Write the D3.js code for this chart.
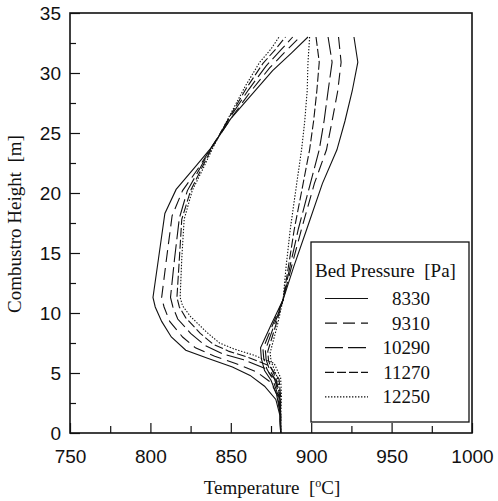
<!DOCTYPE html>
<html>
<head>
<meta charset="utf-8">
<script src="https://cdn.jsdelivr.net/npm/d3@7/dist/d3.min.js"></script>
<style>
  html, body { margin: 0; padding: 0; background: #fff; }
  svg { display: block; }
</style>
</head>
<body>
<div id="chart"></div>
<script>
// ---------- data ----------
const pressures = ["8330", "9310", "10290", "11270", "12250"];
const xTickValues = [750, 800, 850, 900, 950, 1000];
const yTickValues = [0, 5, 10, 15, 20, 25, 30, 35];

// inner (left) branch of each profile, [temperature °C, height m], bottom to top
const inner8330 = [[881,0],[880.5,1.5],[878,2.8],[871,3.9],[862,4.8],[851,5.5],[836,6.2],[822,6.9],[813,8.0],[807,9.3],[803,10.5],[801.6,11.3],[805,14.5],[809,18.3],[816,20.3],[828,22.2],[838,23.8],[850,26.2],[863,28.2],[876,30.2],[888,31.7],[898,33]];
const inner9310 = [[881,0],[880.8,1.5],[879.5,3],[875,4.2],[866,5.1],[853,5.8],[840,6.4],[828,7.1],[820,8],[812,9.3],[808.5,10.5],[807,11.3],[810,14.5],[813.5,18.1],[820,20.2],[830,22.1],[838,23.8],[850,26.2],[862,28.4],[874,30.4],[884,31.8],[893,33]];
const inner10290 = [[881,0],[881,1.5],[880.5,3],[878,4.4],[871,5.4],[858,6.1],[845,6.6],[834,7.3],[825,8.3],[817,9.5],[814,10.5],[812.5,11.3],[815,14.5],[818,17.9],[823,20.2],[831,22.1],[838,23.8],[849.5,26.3],[861,28.6],[872,30.6],[881,31.9],[888.5,33]];
const inner11270 = [[881,0],[881,1.5],[881,3],[880,4.5],[874,5.6],[861,6.3],[849,6.8],[839,7.4],[831,8.3],[822,9.6],[818,10.5],[816.5,11.3],[818,14.5],[819.5,17.8],[825,20.2],[832,22.1],[838.5,23.8],[849.5,26.4],[860,28.8],[870,30.8],[878,32],[884,33]];
const inner12250 = [[881,0],[881,1.5],[881.5,3],[881,4.6],[877,5.8],[864,6.5],[852,7.0],[843,7.5],[835,8.4],[825,9.7],[820,10.6],[818.5,11.3],[819.5,14.5],[821,17.8],[826,20.2],[833,22.1],[839,23.8],[849.5,26.5],[859,28.9],[868,30.9],[875,32],[880,33]];

// outer (right) branch of each profile, top to bottom
const outer8330 = [[926.6,33],[929,30.9],[925.5,28.5],[921,26],[916,23.6],[907,20.8],[897,16.9],[889,13.8],[882.5,11.1],[875,9],[868.5,7.1],[869,6.2],[871,5.2],[875,4.4],[878.5,3.2],[880.5,1.8],[881,0]];
const outer9310 = [[917,33],[918.6,30.9],[916.5,28.5],[913,26],[909.5,23.6],[902,20.8],[894,17],[888,14],[882.5,11.1],[876,9],[870,7],[870.5,6.2],[872.5,5.3],[876,4.5],[879,3.3],[880.5,1.8],[881,0]];
const outer10290 = [[910.5,33],[913,30.9],[910.5,28.5],[908,26],[905,23.6],[899.5,20.8],[892,17],[887,14],[882.5,11.1],[877,9],[871.5,6.9],[872,6.1],[874,5.3],[877,4.6],[879.5,3.4],[880.8,1.8],[881,0]];
const outer11270 = [[903,33],[905,30.9],[903.5,28.5],[901.5,26],[899,23.6],[895,20.8],[889.5,17],[886,14],[882.5,11.1],[878,9],[873,6.8],[873.5,6.0],[875.5,5.3],[878,4.6],[880,3.4],[881,1.8],[881,0]];
const outer12250 = [[899,33],[898,30.9],[897.5,28.5],[896,26],[894,23.6],[891,20.8],[887,17],[884.5,14],[882.5,11.1],[879,9],[874.5,6.7],[875,6.0],[877,5.3],[879,4.6],[880.5,3.4],[881,1.8],[881,0]];

const innerSeries = [inner8330, inner9310, inner10290, inner11270, inner12250];
const outerSeries = [outer8330, outer9310, outer10290, outer11270, outer12250];

// ---------- layout ----------
const W = 498, H = 501;
const plot = { left: 70, top: 13, right: 472, bottom: 433 };
const dashes = [null, "12,6", "18,5", "9,3", "1.4,1.6"];
const SERIF = "'Liberation Serif', 'Times New Roman', serif";
const SANS = "'Liberation Sans', Arial, sans-serif";

const svg = d3.select("#chart").append("svg")
  .attr("width", W).attr("height", H);

const x = d3.scaleLinear().domain([750, 1000]).range([plot.left, plot.right]);
const y = d3.scaleLinear().domain([0, 35]).range([plot.bottom, plot.top]);

// minor ticks
const xMinor = d3.range(775, 1000, 50);
const yMinor = d3.range(2.5, 35, 5);

svg.append("g")
  .attr("transform", `translate(0,${plot.bottom})`)
  .call(d3.axisBottom(x).tickValues(xMinor).tickSize(-7).tickFormat(""))
  .call(g => g.select(".domain").remove());
svg.append("g")
  .attr("transform", `translate(${plot.left},0)`)
  .call(d3.axisLeft(y).tickValues(yMinor).tickSize(-6).tickFormat(""))
  .call(g => g.select(".domain").remove());

const xAxis = svg.append("g")
  .attr("transform", `translate(0,${plot.bottom})`)
  .call(d3.axisBottom(x).tickValues(xTickValues).tickSize(-10).tickPadding(16.5).tickFormat(d3.format("d")))
  .call(g => g.select(".domain").remove());
const yAxis = svg.append("g")
  .attr("transform", `translate(${plot.left},0)`)
  .call(d3.axisLeft(y).tickValues(yTickValues).tickSize(-10).tickPadding(9).tickFormat(d3.format("d")))
  .call(g => g.select(".domain").remove());

svg.selectAll(".tick line").attr("stroke", "#111").attr("stroke-width", 1.2);
[xAxis, yAxis].forEach(a => a.selectAll("text")
  .attr("font-family", SANS).attr("font-size", 19).attr("fill", "#111"));

// curves
const line = d3.line().x(d => x(d[0])).y(d => y(d[1]));
const curves = svg.append("g").attr("fill", "none").attr("stroke", "#111").attr("stroke-width", 1.1);
innerSeries.forEach((s, i) => {
  curves.append("path").attr("d", line(s)).attr("stroke-dasharray", dashes[i]);
});
outerSeries.forEach((s, i) => {
  curves.append("path").attr("d", line(s)).attr("stroke-dasharray", dashes[i]);
});

// frame
svg.append("rect")
  .attr("x", plot.left).attr("y", plot.top)
  .attr("width", plot.right - plot.left).attr("height", plot.bottom - plot.top)
  .attr("fill", "none").attr("stroke", "#111").attr("stroke-width", 1.6);

// legend
const lg = svg.append("g");
lg.append("rect")
  .attr("x", 311).attr("y", 242).attr("width", 158).attr("height", 180)
  .attr("fill", "#fff").attr("stroke", "#111").attr("stroke-width", 1.3);
lg.append("text")
  .attr("x", 315).attr("y", 277)
  .attr("font-family", SERIF).attr("font-size", 19).attr("fill", "#111")
  .attr("xml:space", "preserve")
  .text("Bed Pressure  [Pa]");
pressures.forEach((p, i) => {
  const ly = 298.5 + i * 24.6;
  lg.append("line")
    .attr("x1", 325).attr("x2", 368).attr("y1", ly).attr("y2", ly)
    .attr("stroke", "#111").attr("stroke-width", 1.2)
    .attr("stroke-dasharray", dashes[i]);
  lg.append("text")
    .attr("x", 430).attr("y", ly + 6.5)
    .attr("text-anchor", "end")
    .attr("font-family", SERIF).attr("font-size", 19).attr("fill", "#111")
    .text(p);
});

// axis titles
const xt = svg.append("text")
  .attr("x", 272).attr("y", 494)
  .attr("text-anchor", "middle")
  .attr("font-family", SERIF).attr("font-size", 19).attr("fill", "#111")
  .attr("xml:space", "preserve");
xt.append("tspan").text("Temperature  [");
xt.append("tspan").attr("font-size", 12).attr("dy", -7).text("o");
xt.append("tspan").attr("dy", 7).text("C]");

svg.append("text")
  .attr("transform", `translate(21,${224}) rotate(-90)`)
  .attr("text-anchor", "middle")
  .attr("font-family", SERIF).attr("font-size", 19).attr("fill", "#111")
  .attr("xml:space", "preserve")
  .text("Combustro Height  [m]");
</script>
</body>
</html>
